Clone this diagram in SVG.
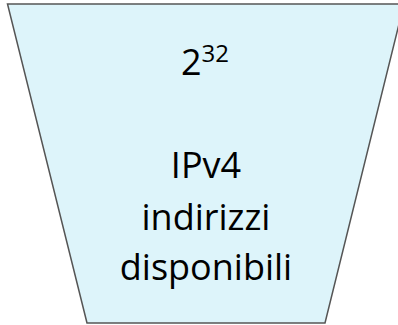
<svg xmlns="http://www.w3.org/2000/svg" width="398" height="325" viewBox="0 0 398 325">
  <style>
    .shape { fill: #ddf4fa; stroke: #555555; stroke-width: 1.5; }
    .label { font-family: "Open Sans", "Noto Sans", sans-serif; font-size: 36px; fill: #000000; text-anchor: middle; }
  </style>
  <g id="funnel">
    <polygon class="shape" points="7.5,4 404,4 325,323 87,323"/>
    <text class="label" x="205" y="75">2<tspan font-size="24px" dy="-13">32</tspan></text>
    <text class="label" x="206" y="178">IPv4</text>
    <text class="label" x="206" y="230">indirizzi</text>
    <text class="label" x="206" y="280">disponibili</text>
  </g>
</svg>
